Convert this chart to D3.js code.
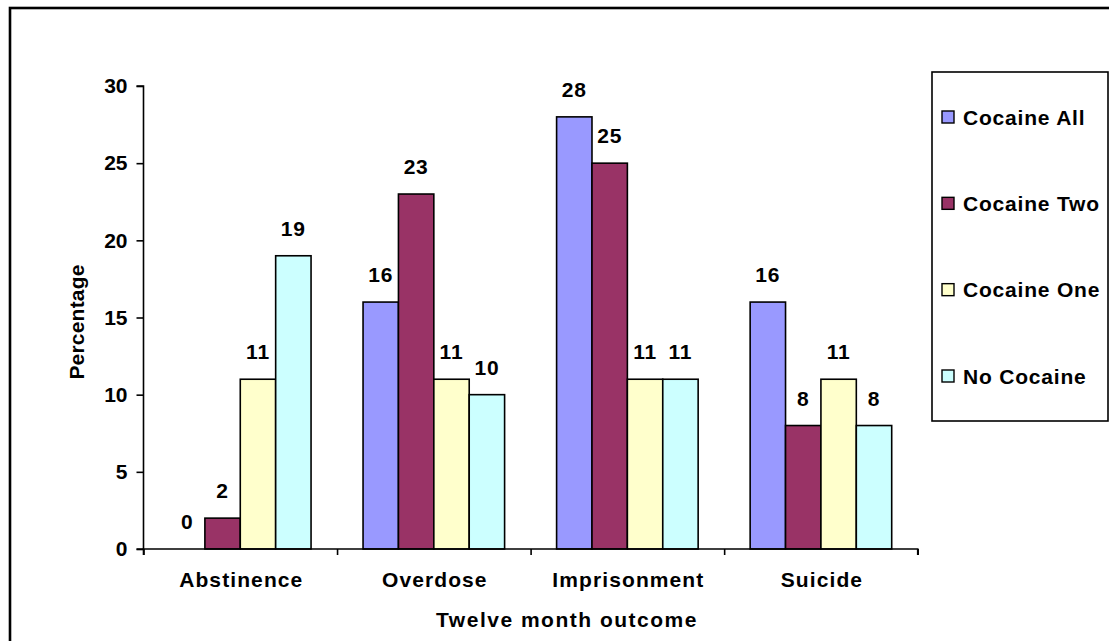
<!DOCTYPE html>
<html>
<head>
<meta charset="utf-8">
<script src="https://cdn.jsdelivr.net/npm/d3@7/dist/d3.min.js"></script>
<style>
  html, body { margin: 0; padding: 0; background: #fff; }
  svg { display: block; }
  text { font-family: "Liberation Sans", Arial, sans-serif; font-weight: bold; fill: #000; }
</style>
</head>
<body>
<svg id="chart" width="1109" height="641"></svg>
<script>
// Twelve month outcomes by cocaine use group (percentages)
const categories = ["Abstinence", "Overdose", "Imprisonment", "Suicide"];
const seriesNames = ["Cocaine All", "Cocaine Two", "Cocaine One", "No Cocaine"];
const cocaineAll = [0, 16, 28, 16];
const cocaineTwo = [2, 23, 25, 8];
const cocaineOne = [11, 11, 11, 11];
const noCocaine  = [19, 10, 11, 8];
const yTicks = [0, 5, 10, 15, 20, 25, 30];
const colors = ["#9999FF", "#993366", "#FFFFCC", "#CCFFFF"];

const seriesValues = [cocaineAll, cocaineTwo, cocaineOne, noCocaine];
const FONT = "21px";

const svg = d3.select("#chart");

// outer chart frame
svg.append("rect")
  .attr("x", 10).attr("y", 8)
  .attr("width", 1120).attr("height", 660)
  .attr("fill", "none").attr("stroke", "#000").attr("stroke-width", 2.6);

const plot = { left: 143.5, right: 917.7, top: 86, bottom: 549 };

const y = d3.scaleLinear().domain([0, 30]).range([plot.bottom, plot.top]);
const x0 = d3.scaleBand().domain(categories).range([plot.left, plot.right]).padding(0);
const groupPad = 26;
const x1 = d3.scaleBand().domain(seriesNames)
  .range([groupPad, x0.bandwidth() - groupPad]).padding(0);
const xEdges = d3.scaleLinear().domain([0, categories.length]).range([plot.left, plot.right]);

const cells = (c, i) => seriesNames.map((s, j) => ({ s, v: seriesValues[j][i], j }));

// bars
const groups = svg.append("g").selectAll("g")
  .data(categories)
  .join("g")
  .attr("transform", c => `translate(${x0(c)},0)`);

groups.selectAll("rect")
  .data(cells)
  .join("rect")
  .filter(d => d.v > 0)
  .attr("x", d => x1(d.s))
  .attr("y", d => y(d.v))
  .attr("width", x1.bandwidth())
  .attr("height", d => y(0) - y(d.v))
  .attr("fill", d => colors[d.j])
  .attr("stroke", "#000")
  .attr("stroke-width", 1.6);

// value labels
groups.selectAll("text")
  .data(cells)
  .join("text")
  .attr("x", d => x1(d.s) + x1.bandwidth() / 2)
  .attr("y", d => y(d.v) - 20)
  .attr("text-anchor", "middle")
  .style("font-size", FONT)
  .style("letter-spacing", "0.8px")
  .text(d => d.v);

// y axis
const yAxis = svg.append("g")
  .attr("transform", `translate(${plot.left},0)`)
  .call(d3.axisLeft(y).tickValues(yTicks).tickSize(7).tickPadding(9).tickFormat(d3.format("d")));
yAxis.select(".domain").attr("stroke", "#000").attr("stroke-width", 1.6)
  .attr("d", `M-7,${plot.top}H0V${plot.bottom}H-7`);
yAxis.selectAll(".tick line").attr("stroke", "#000").attr("stroke-width", 1.6);
yAxis.selectAll(".tick text").style("font-size", FONT)
  .style("font-family", '"Liberation Sans", Arial, sans-serif').style("font-weight", "bold");

// x axis with ticks at category boundaries
const xAxis = svg.append("g")
  .attr("transform", `translate(0,${plot.bottom})`)
  .call(d3.axisBottom(xEdges).tickValues(d3.range(categories.length + 1)).tickSize(6).tickFormat(""));
xAxis.select(".domain").attr("stroke", "#000").attr("stroke-width", 1.6)
  .attr("d", `M${plot.left},6V0H${plot.right}V6`);
xAxis.selectAll(".tick line").attr("stroke", "#000").attr("stroke-width", 1.6);

// category labels
svg.append("g").selectAll("text")
  .data(categories)
  .join("text")
  .attr("x", c => x0(c) + x0.bandwidth() / 2 + 1)
  .attr("y", plot.bottom + 38)
  .attr("text-anchor", "middle")
  .style("font-size", FONT)
  .style("letter-spacing", "1.1px")
  .text(c => c);

// axis titles
svg.append("text")
  .attr("x", 567).attr("y", 627)
  .attr("text-anchor", "middle")
  .style("font-size", FONT)
  .style("letter-spacing", "1.5px")
  .text("Twelve month outcome");

svg.append("text")
  .attr("transform", "translate(84,322) rotate(-90)")
  .attr("text-anchor", "middle")
  .style("font-size", FONT)
  .style("letter-spacing", "0.2px")
  .text("Percentage");

// legend
const legend = svg.append("g");
legend.append("rect")
  .attr("x", 932).attr("y", 72)
  .attr("width", 176).attr("height", 349)
  .attr("fill", "#fff").attr("stroke", "#000").attr("stroke-width", 1.6);

const legendY = d3.scalePoint().domain(seriesNames).range([117, 376]);
const items = legend.selectAll("g.item")
  .data(seriesNames)
  .join("g").attr("class", "item")
  .attr("transform", s => `translate(942,${legendY(s)})`);
items.append("rect")
  .attr("x", 0).attr("y", -6).attr("width", 12).attr("height", 12)
  .attr("fill", (s, i) => colors[i]).attr("stroke", "#000").attr("stroke-width", 1.4);
items.append("text")
  .attr("x", 21).attr("y", 7.5)
  .style("font-size", FONT)
  .style("letter-spacing", "0.8px")
  .text(s => s);
</script>
</body>
</html>
